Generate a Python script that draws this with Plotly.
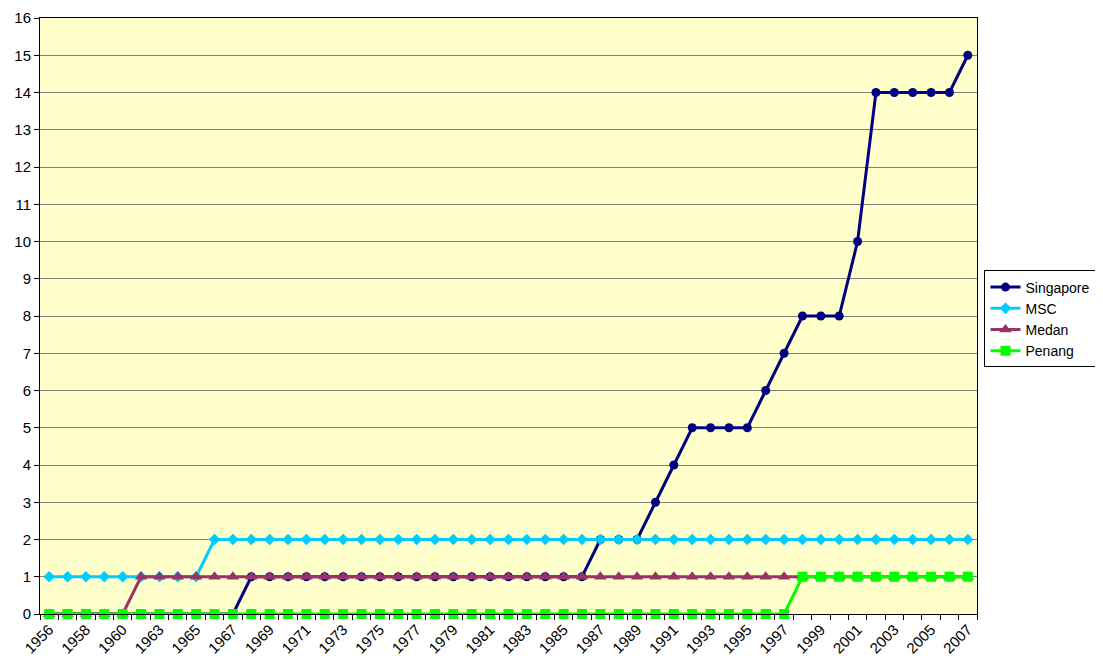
import plotly.graph_objects as go

years = ["1956", "1957", "1958", "1959", "1960", "1961"] + [str(y) for y in range(1963, 2008)]

singapore = [0]*11 + [1]*19 + [2]*3 + [3, 4] + [5]*4 + [6, 7] + [8]*3 + [10] + [14]*5 + [15]
msc = [1]*9 + [2]*42
medan = [0]*5 + [1]*46
penang = [0]*41 + [1]*10

idx = list(range(len(years)))

series = [
    ("Singapore", singapore, "#000080", "circle", 9),
    ("MSC", msc, "#00CCFF", "diamond", 9),
    ("Medan", medan, "#993366", "triangle-up", 11),
    ("Penang", penang, "#00FF00", "square", 10),
]

fig = go.Figure()
for name, vals, color, sym, sz in series:
    fig.add_trace(go.Scatter(
        x=idx, y=vals, name=name, mode="lines+markers",
        line=dict(color=color, width=3),
        marker=dict(color=color, symbol=sym, size=sz, line=dict(width=0)),
        cliponaxis=False,
    ))

fig.update_layout(
    width=1103, height=661,
    margin=dict(l=32, r=134, t=10, b=55, autoexpand=False),
    paper_bgcolor="white",
    plot_bgcolor="#FFFFCC",
    font=dict(family="Liberation Sans, Arial, sans-serif", size=15, color="black"),
    showlegend=True,
    legend=dict(
        x=1.008, y=0.495, xanchor="left", yanchor="middle",
        bordercolor="black", borderwidth=1, bgcolor="white",
        font=dict(size=14), tracegroupgap=0, itemwidth=30,
    ),
)

fig.update_xaxes(
    range=[-0.5, len(years) - 0.5],
    automargin=False,
    tickmode="array",
    tickvals=idx[::2],
    ticktext=years[::2],
    tickangle=-45,
    ticks="",
    showgrid=False,
    zeroline=False,
    showline=True, linecolor="black", linewidth=1, mirror=True,
    tickfont=dict(size=15),
    minor=dict(tickmode="linear", tick0=-0.5, dtick=1, ticks="outside",
               ticklen=5, tickcolor="black", showgrid=False),
)

fig.update_yaxes(
    range=[0, 16],
    automargin=False,
    dtick=1,
    ticks="outside", ticklen=5, tickcolor="black",
    showgrid=True, gridcolor="#808080", gridwidth=1,
    zeroline=False,
    showline=True, linecolor="black", linewidth=1, mirror=True,
    tickfont=dict(size=15),
)

fig.write_html("out.html")
